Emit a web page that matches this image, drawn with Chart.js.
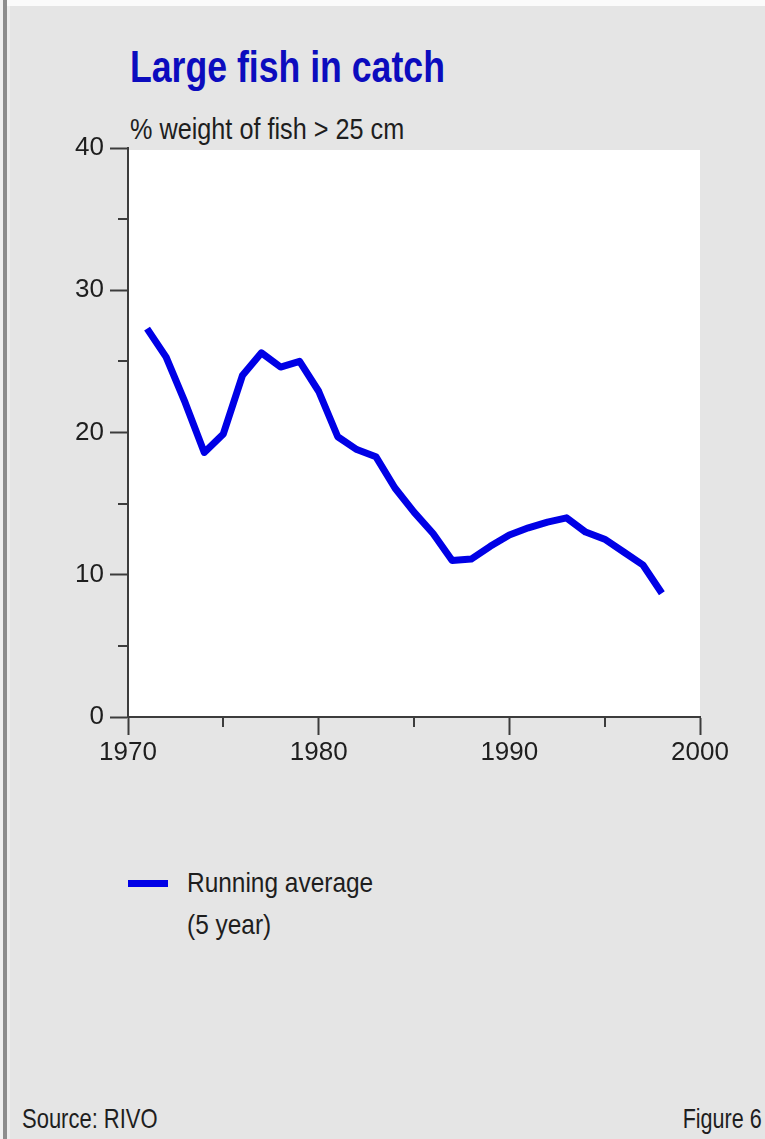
<!DOCTYPE html>
<html>
<head>
<meta charset="utf-8">
<script src="https://cdn.jsdelivr.net/npm/chart.js@4.4.1/dist/chart.umd.min.js"></script>
<style>
  html, body { margin: 0; padding: 0; }
  body { width: 765px; height: 1139px; background: #e5e5e5; position: relative; overflow: hidden;
         font-family: 'Liberation Sans', Arial, sans-serif; color: #1e1e1e; }
  .topband { position: absolute; left: 0; top: 0; width: 765px; height: 6px; background: #fbfbfb; }
  .leftedge { position: absolute; left: 0; top: 0; width: 3px; height: 1139px; background: #f2f2f2; }
  .leftbar { position: absolute; left: 3px; top: 0; width: 4px; height: 1139px; background: #8e8e8e; }
  .leftlight { position: absolute; left: 7px; top: 6px; width: 3px; height: 1133px; background: #eeeeee; }
  .txt { position: absolute; white-space: nowrap; line-height: 1; transform-origin: left top; }
  #title { left: 130px; top: 45px; font-size: 44px; font-weight: bold; color: #0c0cbe; transform: scaleX(0.81); }
  #subtitle { left: 130px; top: 115px; font-size: 29px; transform: scaleX(0.87); }
  #swatch { position: absolute; left: 128px; top: 880px; width: 40px; height: 7px; background: #0000e6; }
  #leg1 { left: 187px; top: 869px; font-size: 28px; transform: scaleX(0.873); }
  #leg2 { left: 187px; top: 911px; font-size: 28px; transform: scaleX(0.873); }
  #source { left: 22px; top: 1105px; font-size: 28px; transform: scaleX(0.785); }
  #figure { right: 3px; top: 1105px; font-size: 28px; transform: scaleX(0.77); transform-origin: right top; }
  #wrap { position: absolute; left: 0; top: 0; width: 765px; height: 800px; }
</style>
</head>
<body>
<div class="topband"></div>
<div class="leftedge"></div>
<div class="leftbar"></div>
<div class="leftlight"></div>
<div class="txt" id="title">Large fish in catch</div>
<div class="txt" id="subtitle">% weight of fish &gt; 25 cm</div>
<div id="wrap"><canvas id="chart"></canvas></div>
<div id="swatch"></div>
<div class="txt" id="leg1">Running average</div>
<div class="txt" id="leg2">(5 year)</div>
<div class="txt" id="source">Source: RIVO</div>
<div class="txt" id="figure">Figure 6</div>
<script>
// values, 5 year running average
var years = [1971, 1972, 1973, 1974, 1975, 1976, 1977, 1978, 1979, 1980,
             1981, 1982, 1983, 1984, 1985, 1986, 1987, 1988, 1989, 1990,
             1991, 1992, 1993, 1994, 1995, 1996, 1997, 1998];
var largeFish = [27.3, 25.3, 22.1, 18.6, 19.9, 24.0, 25.6, 24.6, 25.0, 22.9,
                 19.7, 18.8, 18.3, 16.1, 14.4, 12.9, 11.0, 11.1, 12.0, 12.8,
                 13.3, 13.7, 14.0, 13.0, 12.5, 11.6, 10.7, 8.7];
var xTicks = [1970, 1980, 1990, 2000];
var yTicks = [0, 10, 20, 30, 40];
var minorXTicks = [1975, 1985, 1995];
var minorYTicks = [5, 15, 25, 35];

var axisColor = '#3c3c3c';
var fontFamily = "'Liberation Sans', Arial, sans-serif";

var points = years.map(function (y, i) { return { x: y, y: largeFish[i] }; });

// white plot area
var plotBg = {
  id: 'plotBg',
  beforeDraw: function (chart) {
    var a = chart.chartArea, ctx = chart.ctx;
    ctx.save();
    ctx.fillStyle = '#ffffff';
    ctx.fillRect(a.left, a.top + 2, a.right - a.left, a.bottom - a.top - 2);
    ctx.restore();
  }
};

// short minor ticks
var minorTicks = {
  id: 'minorTicks',
  afterDraw: function (chart) {
    var ctx = chart.ctx, xs = chart.scales.x, ys = chart.scales.y;
    ctx.save();
    ctx.strokeStyle = axisColor;
    ctx.lineWidth = 2;
    minorYTicks.forEach(function (v) {
      var py = Math.round(ys.getPixelForValue(v));
      ctx.beginPath(); ctx.moveTo(ys.right - 10, py); ctx.lineTo(ys.right, py); ctx.stroke();
    });
    minorXTicks.forEach(function (v) {
      var px = Math.round(xs.getPixelForValue(v));
      ctx.beginPath(); ctx.moveTo(px, xs.top); ctx.lineTo(px, xs.top + 10); ctx.stroke();
    });
    ctx.restore();
  }
};

new Chart(document.getElementById('chart'), {
  type: 'line',
  data: {
    datasets: [{
      label: 'Running average (5 year)',
      data: points,
      borderColor: '#0000e6',
      borderWidth: 7,
      pointRadius: 0,
      tension: 0,
      fill: false,
      borderJoinStyle: 'round'
    }]
  },
  options: {
    responsive: true,
    maintainAspectRatio: false,
    animation: false,
    layout: { padding: { left: 0, top: 148, right: 65, bottom: 23 } },
    plugins: { legend: { display: false }, tooltip: { enabled: false } },
    scales: {
      x: {
        type: 'linear',
        min: 1970,
        max: 2000,
        afterFit: function (s) { s.height = 60; },
        afterBuildTicks: function (s) { s.ticks = xTicks.map(function (v) { return { value: v }; }); },
        border: { display: true, color: axisColor, width: 2 },
        grid: { drawOnChartArea: false, drawTicks: true, tickLength: 18, tickColor: axisColor, tickWidth: 2 },
        ticks: {
          padding: 2,
          color: '#1e1e1e',
          font: { family: fontFamily, size: 26 },
          maxRotation: 0,
          callback: function (v) { return String(v); }
        }
      },
      y: {
        min: 0,
        max: 40,
        afterFit: function (s) { s.width = 128; },
        afterBuildTicks: function (s) { s.ticks = yTicks.map(function (v) { return { value: v }; }); },
        border: { display: true, color: axisColor, width: 2 },
        grid: { drawOnChartArea: false, drawTicks: true, tickLength: 18, tickColor: axisColor, tickWidth: 2 },
        ticks: {
          padding: 6,
          color: '#1e1e1e',
          font: { family: fontFamily, size: 26 },
          callback: function (v) { return String(v); }
        }
      }
    }
  },
  plugins: [plotBg, minorTicks]
});
</script>
</body>
</html>
